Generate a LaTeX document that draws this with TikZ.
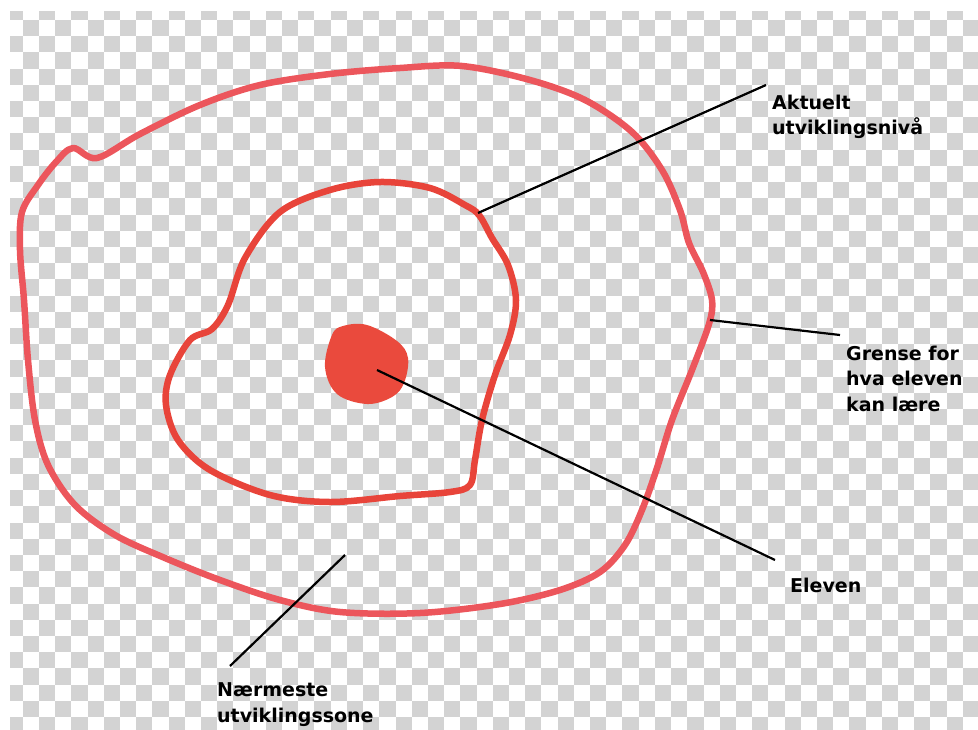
\documentclass[tikz,border=0pt]{standalone}
\usepackage{fontspec}
\setmainfont{DejaVu Sans}
\definecolor{checkgray}{RGB}{211,211,211}
\definecolor{outerred}{RGB}{236,86,92}
\definecolor{innerred}{RGB}{232,68,58}
\definecolor{dotred}{RGB}{234,74,61}
\begin{document}
\begin{tikzpicture}[x=1pt,y=-1pt,
  lbl/.style={font=\bfseries\fontsize{19}{25.3}\selectfont, align=left, inner sep=0pt, anchor=north west},
  ptr/.style={draw=black, line width=2.2pt},
  outerline/.style={draw=outerred, line width=6.5pt, line join=round},
  innerline/.style={draw=innerred, line width=6.5pt, line join=round},
  dotfill/.style={fill=dotred}]
\useasboundingbox (0,0) rectangle (978,729);
% checkerboard background
\begin{scope}
\clip (10,11) rectangle (978,729);
\foreach \j in {0,...,44}{
  \foreach \i in {0,2,...,60}{
    \pgfmathsetmacro\xx{22.7+16.21*(\i+mod(\j,2)-1)}
    \pgfmathsetmacro\yy{20+16.21*(\j-1)}
    \fill[checkgray] (\xx,\yy) rectangle ++(16.21,16.21);
  }
}
\end{scope}
% outer boundary
\draw[outerline] plot[smooth cycle, tension=0.55] coordinates {
 (73,148) (97,158) (140,134) (200,105) (260,85) (330,74) (400,68) (462,66)
 (530,80) (585,100) (632,132) (662,170) (680,210) (689,243) (703,272) (712,300)
 (709,324) (692,370) (672,420) (657,468) (642,510) (625,545) (600,572) (560,590)
 (500,604) (420,613) (340,612) (280,600) (220,580) (165,558) (115,535) (75,505)
 (48,465) (35,420) (28,360) (24,300) (20,250) (22,212) (38,185) (56,162)};
% inner boundary
\draw[innerline] plot[smooth cycle, tension=0.55] coordinates {
 (190,340) (212,329) (228,305) (245,258) (280,212) (330,190) (380,182) (430,188)
 (465,205) (479,215) (492,238) (508,265) (516,300) (510,335) (495,375) (482,420)
 (475,460) (470,485) (450,492) (400,496) (330,502) (270,495) (210,470) (178,440)
 (166,405) (170,375)};
% the pupil
\fill[dotfill] plot[smooth cycle, tension=0.6] coordinates {
 (332,335) (343,326) (367,325) (397,341) (408,358) (404,383) (392,397) (367,404)
 (337,394) (325,367)};
% anchor points
\coordinate (pA) at (478,213);
\coordinate (pG) at (710,320);
\coordinate (pE) at (377,370);
\coordinate (pN) at (345,555);
\coordinate (eA) at (766,85);
\coordinate (eG) at (840,335);
\coordinate (eE) at (775,560);
\coordinate (eN) at (230,666);
% labels
\node[lbl] (lA) at (772,94.6) {Aktuelt\\utviklingsnivå};
\node[lbl] (lG) at (846,346) {Grense for\\hva eleven\\kan lære};
\node[lbl] (lE) at (790,578) {Eleven};
\node[lbl] (lN) at (217,682.8) {Nærmeste\\utviklingssone};
% pointers
\draw[ptr] (pA) -- (eA);
\draw[ptr] (pG) -- (eG);
\draw[ptr] (pE) -- (eE);
\draw[ptr] (pN) -- (eN);
\end{tikzpicture}
\end{document}
